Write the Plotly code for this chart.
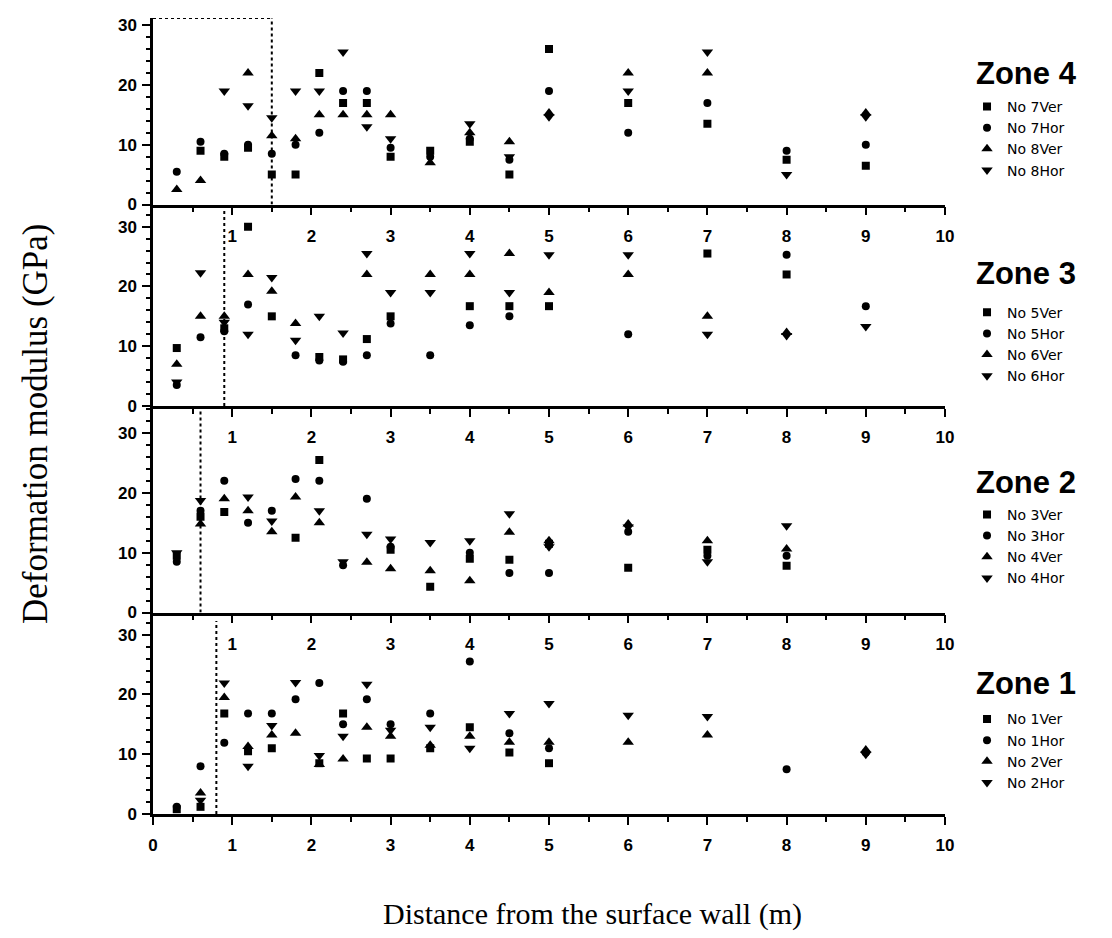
import plotly.graph_objects as go

# ---------------- data ----------------
# Zone 4
z4_7ver_x = [0.6, 0.9, 1.2, 1.5, 1.8, 2.1, 2.4, 2.7, 3.0, 3.5, 4.0, 4.5, 5.0, 6.0, 7.0, 8.0, 9.0]
z4_7ver_y = [9.0, 8.0, 9.5, 5.0, 5.0, 22.0, 17.0, 17.0, 8.0, 9.0, 10.5, 5.0, 26.0, 17.0, 13.5, 7.5, 6.5]
z4_7hor_x = [0.3, 0.6, 0.9, 1.2, 1.5, 1.8, 2.1, 2.4, 2.7, 3.0, 3.5, 4.0, 4.5, 5.0, 6.0, 7.0, 8.0, 9.0]
z4_7hor_y = [5.5, 10.5, 8.5, 10.0, 8.5, 10.0, 12.0, 19.0, 19.0, 9.5, 8.0, 11.0, 7.5, 19.0, 12.0, 17.0, 9.0, 10.0]
z4_8ver_x = [0.3, 0.6, 1.2, 1.5, 1.8, 2.1, 2.4, 2.7, 3.0, 3.5, 4.0, 4.5, 5.0, 6.0, 7.0, 9.0]
z4_8ver_y = [2.5, 4.0, 22.0, 11.5, 11.0, 15.0, 15.0, 15.0, 15.0, 7.0, 12.0, 10.5, 15.3, 22.0, 22.0, 15.3]
z4_8hor_x = [0.9, 1.2, 1.5, 1.8, 2.1, 2.4, 2.7, 3.0, 4.0, 4.5, 5.0, 6.0, 7.0, 8.0, 9.0]
z4_8hor_y = [19.0, 16.5, 14.5, 19.0, 19.0, 25.5, 13.0, 11.0, 13.5, 8.0, 14.7, 19.0, 25.5, 5.0, 14.7]

# Zone 3
z3_5ver_x = [0.3, 0.9, 1.2, 1.5, 2.1, 2.4, 2.7, 3.0, 4.0, 4.5, 5.0, 7.0, 8.0]
z3_5ver_y = [9.7, 13.0, 30.0, 15.0, 8.2, 7.8, 11.2, 15.0, 16.7, 16.7, 16.7, 25.5, 22.0]
z3_5hor_x = [0.3, 0.6, 0.9, 1.2, 1.8, 2.1, 2.4, 2.7, 3.0, 3.5, 4.0, 4.5, 6.0, 8.0, 9.0]
z3_5hor_y = [3.5, 11.5, 12.5, 17.0, 8.5, 7.6, 7.4, 8.5, 13.8, 8.5, 13.5, 15.0, 12.0, 25.3, 16.7]
z3_6ver_x = [0.3, 0.6, 0.9, 1.2, 1.5, 1.8, 2.7, 3.5, 4.0, 4.5, 5.0, 6.0, 7.0, 8.0]
z3_6ver_y = [7.0, 15.0, 15.0, 22.0, 19.2, 13.8, 22.0, 22.0, 22.0, 25.5, 19.0, 22.0, 15.0, 12.3]
z3_6hor_x = [0.3, 0.6, 0.9, 1.2, 1.5, 1.8, 2.1, 2.4, 2.7, 3.0, 3.5, 4.0, 4.5, 5.0, 6.0, 7.0, 8.0, 9.0]
z3_6hor_y = [4.0, 22.3, 14.0, 12.0, 21.5, 11.0, 15.0, 12.2, 25.5, 19.0, 19.0, 25.5, 19.0, 25.3, 25.3, 12.0, 11.8, 13.3]

# Zone 2
z2_3ver_x = [0.3, 0.6, 0.9, 1.8, 2.1, 3.0, 3.5, 4.0, 4.5, 5.0, 6.0, 7.0, 8.0]
z2_3ver_y = [9.5, 16.0, 16.8, 12.5, 25.5, 10.5, 4.3, 9.0, 8.8, 11.5, 7.5, 10.5, 7.8]
z2_3hor_x = [0.3, 0.6, 0.9, 1.2, 1.5, 1.8, 2.1, 2.4, 2.7, 3.0, 4.0, 4.5, 5.0, 6.0, 7.0, 8.0]
z2_3hor_y = [8.5, 17.0, 22.0, 15.0, 17.0, 22.3, 22.0, 7.9, 19.0, 11.0, 10.0, 6.6, 6.6, 13.5, 9.5, 9.5]
z2_4ver_x = [0.6, 0.9, 1.2, 1.5, 1.8, 2.1, 2.7, 3.0, 3.5, 4.0, 4.5, 5.0, 6.0, 7.0, 8.0]
z2_4ver_y = [14.8, 19.0, 17.0, 13.5, 19.3, 15.0, 8.4, 7.3, 7.0, 5.3, 13.4, 12.0, 14.8, 12.0, 10.6]
z2_4hor_x = [0.3, 0.6, 1.2, 1.5, 2.1, 2.4, 2.7, 3.0, 3.5, 4.0, 4.5, 5.0, 6.0, 7.0, 8.0]
z2_4hor_y = [10.0, 18.7, 19.3, 15.3, 17.0, 8.5, 13.1, 12.3, 11.7, 12.0, 16.5, 11.0, 14.3, 8.5, 14.5]

# Zone 1
z1_1ver_x = [0.3, 0.6, 0.9, 1.2, 1.5, 2.1, 2.4, 2.7, 3.0, 3.5, 4.0, 4.5, 5.0]
z1_1ver_y = [0.8, 1.2, 16.8, 10.5, 11.0, 8.5, 16.8, 9.3, 9.3, 11.0, 14.5, 10.3, 8.5]
z1_1hor_x = [0.3, 0.6, 0.9, 1.2, 1.5, 1.8, 2.1, 2.4, 2.7, 3.0, 3.5, 4.0, 4.5, 5.0, 8.0, 9.0]
z1_1hor_y = [1.2, 8.0, 11.9, 16.8, 16.8, 19.2, 21.9, 15.0, 19.2, 15.0, 16.8, 25.5, 13.5, 11.0, 7.5, 10.3]
z1_2ver_x = [0.6, 0.9, 1.2, 1.5, 1.8, 2.1, 2.4, 2.7, 3.0, 3.5, 4.0, 4.5, 5.0, 6.0, 7.0, 9.0]
z1_2ver_y = [3.5, 19.5, 11.3, 13.2, 13.5, 8.3, 9.2, 14.5, 13.0, 11.5, 13.0, 12.0, 12.0, 12.0, 13.2, 10.7]
z1_2hor_x = [0.6, 0.9, 1.2, 1.5, 1.8, 2.1, 2.4, 2.7, 3.0, 3.5, 4.0, 4.5, 5.0, 6.0, 7.0, 9.0]
z1_2hor_y = [2.3, 21.9, 8.0, 14.8, 22.0, 9.8, 13.0, 21.7, 14.0, 14.5, 11.0, 16.8, 18.5, 16.5, 16.3, 10.0]

zone_names = ["Zone 1", "Zone 2", "Zone 3", "Zone 4"]
x_ticks_all = [0, 1, 2, 3, 4, 5, 6, 7, 8, 9, 10]
x_ticks_inner = [1, 2, 3, 4, 5, 6, 7, 8, 9, 10]
y_ticks = [0, 10, 20, 30]

# ---------------- figure ----------------
fig = go.Figure()

symbols = ["square", "circle", "triangle-up", "triangle-down"]
zones = [
    ("", "legend4", [("No 1Ver", z1_1ver_x, z1_1ver_y), ("No 1Hor", z1_1hor_x, z1_1hor_y),
                     ("No 2Ver", z1_2ver_x, z1_2ver_y), ("No 2Hor", z1_2hor_x, z1_2hor_y)]),
    ("2", "legend3", [("No 3Ver", z2_3ver_x, z2_3ver_y), ("No 3Hor", z2_3hor_x, z2_3hor_y),
                      ("No 4Ver", z2_4ver_x, z2_4ver_y), ("No 4Hor", z2_4hor_x, z2_4hor_y)]),
    ("3", "legend2", [("No 5Ver", z3_5ver_x, z3_5ver_y), ("No 5Hor", z3_5hor_x, z3_5hor_y),
                      ("No 6Ver", z3_6ver_x, z3_6ver_y), ("No 6Hor", z3_6hor_x, z3_6hor_y)]),
    ("4", "legend", [("No 7Ver", z4_7ver_x, z4_7ver_y), ("No 7Hor", z4_7hor_x, z4_7hor_y),
                     ("No 8Ver", z4_8ver_x, z4_8ver_y), ("No 8Hor", z4_8hor_x, z4_8hor_y)]),
]

for suf, leg, series in zones:
    for (name, xs, ys), sym in zip(series, symbols):
        size = 10 if sym.startswith("triangle") else 8
        fig.add_trace(go.Scatter(
            x=xs, y=ys, mode="markers", name=name,
            marker=dict(symbol=sym, size=size, color="black", line=dict(width=0)),
            xaxis="x" + suf, yaxis="y" + suf, legend=leg, showlegend=True,
        ))

# panel geometry (paper fractions, bottom = 0)
domains = [[0.0, 0.2531], [0.2531, 0.5125], [0.5125, 0.7657], [0.7657, 1.0]]
yranges = [[0, 33.7], [0, 34.5], [0, 33.7], [0, 31.2]]

tick_font = dict(family="Liberation Sans, Arial", size=17, color="black", weight="bold")
minor_x = [i + 0.5 for i in range(10)]

# page body adds an 8px offset, so margins are shifted to compensate
layout = dict(
    width=1112, height=938,
    margin=dict(l=145, r=175, t=8, b=132),
    plot_bgcolor="white", paper_bgcolor="white",
    font=dict(family="Liberation Sans, Arial", color="black"),
)

for i, suf in enumerate(["", "2", "3", "4"]):
    ax = dict(
        domain=[0, 1], anchor="y" + suf, range=[0, 10],
        tickvals=x_ticks_all if suf == "" else x_ticks_inner,
        ticks="outside", ticklen=8, tickwidth=2, tickcolor="black",
        minor=dict(tickvals=minor_x, ticks="outside", ticklen=5, tickwidth=2, tickcolor="black"),
        showline=True, linewidth=2.5, linecolor="black",
        showgrid=False, zeroline=False, tickfont=tick_font, ticklabelstandoff=6,
        fixedrange=True,
    )
    ay = dict(
        domain=domains[i], anchor="x" + suf, range=yranges[i],
        tickvals=y_ticks, ticks="outside", ticklen=8, tickwidth=2, tickcolor="black",
        minor=dict(dtick=2, ticks="outside", ticklen=4, tickwidth=1.5, tickcolor="black"),
        showline=True, linewidth=2.5, linecolor="black",
        showgrid=False, zeroline=False, tickfont=tick_font, ticklabelstandoff=2,
    )
    layout["xaxis" + suf] = ax
    layout["yaxis" + suf] = ay

# legends, one per zone (no title; zone heading is an annotation above)
legend_y = [0.139, 0.396, 0.650, 0.9085]
legend_ids = ["legend4", "legend3", "legend2", "legend"]
for lid, ly in zip(legend_ids, legend_y):
    layout[lid] = dict(
        x=1.0278, xanchor="left", y=ly, yanchor="top",
        font=dict(family="DejaVu Sans, Liberation Sans", size=14, color="black"),
        bgcolor="rgba(0,0,0,0)", borderwidth=0, tracegroupgap=0,
        traceorder="normal",
    )

fig.update_layout(**layout)

# zone headings
heading_py = [683, 482, 272, 72]
for zname, py in zip(zone_names, heading_py):
    fig.add_annotation(text="<b>" + zname + "</b>", xref="paper", yref="paper",
                       x=(974 - 153) / 792, y=(814 - py) / 798, showarrow=False,
                       xanchor="left", yanchor="middle",
                       font=dict(family="Liberation Sans, Arial", size=31, color="black"))

# dotted boxes marking near-surface zones
dot = dict(color="black", width=2, dash="dot")
fig.add_shape(type="line", xref="x4", yref="y4", x0=0, x1=1.5, y0=31.2, y1=31.2, line=dot)
fig.add_shape(type="line", xref="x4", yref="y4", x0=1.5, x1=1.5, y0=0, y1=31.2, line=dot)
fig.add_shape(type="line", xref="x3", yref="y3", x0=0.9, x1=0.9, y0=0, y1=33.7, line=dot)
fig.add_shape(type="line", xref="x2", yref="y2", x0=0.6, x1=0.6, y0=0, y1=34.5, line=dot)
fig.add_shape(type="line", xref="x", yref="y", x0=0.8, x1=0.8, y0=0, y1=32.3, line=dot)

# axis titles
fig.add_annotation(text="Deformation modulus (GPa)", xref="paper", yref="paper",
                   x=(36 - 153) / 792, y=(814 - 423) / 798, textangle=-90,
                   showarrow=False, xanchor="center", yanchor="middle",
                   font=dict(family="Liberation Serif, Times New Roman", size=35, color="black"))
fig.add_annotation(text="Distance from the surface wall (m)", xref="paper", yref="paper",
                   x=(592 - 153) / 792, y=(814 - 914) / 798,
                   showarrow=False, xanchor="center", yanchor="middle",
                   font=dict(family="Liberation Serif, Times New Roman", size=30, color="black"))

fig.write_html("out.html")
